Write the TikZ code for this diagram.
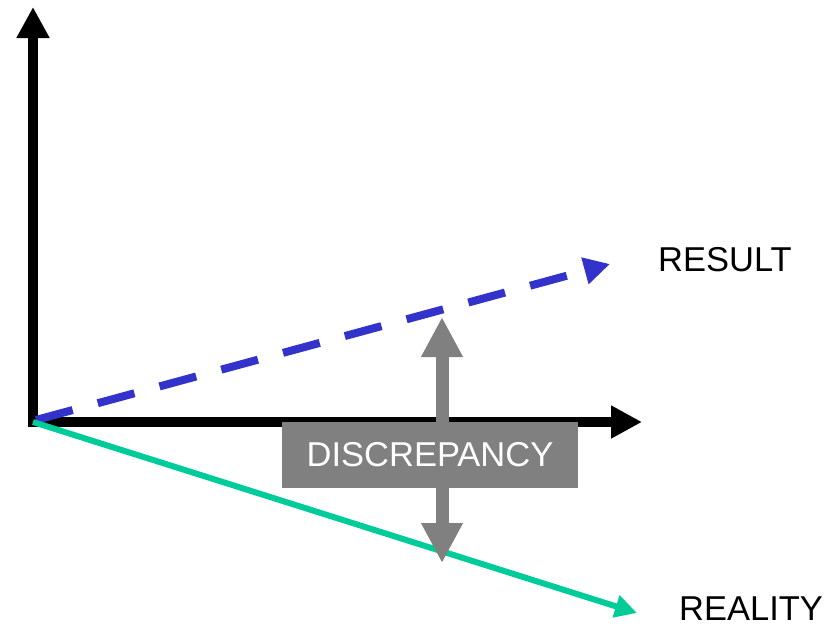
\documentclass[tikz,border=0pt]{standalone}
\usepackage{fontspec}
\setmainfont{Liberation Sans}
\usetikzlibrary{arrows.meta}
\definecolor{resblue}{HTML}{3333CC}
\definecolor{realgreen}{HTML}{00CC99}
\definecolor{discgray}{HTML}{808080}
\begin{document}
\begin{tikzpicture}[x=1pt,y=-1pt,
  axisline/.style={line width=10pt,-{Triangle[length=31pt,width=31pt]}},
  resultline/.style={resblue,line width=8pt,dash pattern=on 38pt off 26pt,-{Triangle[length=26pt,width=26pt]}},
  realityline/.style={realgreen,line width=6pt,-{Triangle[length=22pt,width=22pt]}},
  discarrow/.style={discgray,line width=13pt,-{Triangle[length=40pt,width=39pt]}},
  lbl/.style={font=\fontsize{34.5}{40}\selectfont,inner sep=0pt,anchor=west},
  discbox/.style={fill=discgray,text=white,minimum width=296pt,minimum height=66pt,inner sep=0pt,font=\fontsize{34.5}{40}\selectfont}]
\useasboundingbox (0,0) rectangle (834,627);
\coordinate (O) at (33,422);
\coordinate (ybot) at (33,427);
\coordinate (xleft) at (28,422);
\coordinate (ytip) at (33,7);
\coordinate (xtip) at (642,422);
\coordinate (bstart) at (36,420);
\coordinate (btip) at (610,264);
\coordinate (gtip) at (637,613);
\coordinate (uptip) at (442,317);
\coordinate (downtip) at (442,563);
% axes
\draw[axisline] (ybot) -- (ytip);
\draw[axisline] (xleft) -- (xtip);
% result and reality
\draw[resultline] (bstart) -- (btip);
\draw[realityline] (O) -- (gtip);
% discrepancy
\node[discbox] (disc) at (430,455) {DISCREPANCY};
\draw[discarrow] (disc.north -| uptip) -- (uptip);
\draw[discarrow] (disc.south -| downtip) -- (downtip);
% labels
\node[lbl] (result) at (658,260) {RESULT};
\node[lbl] (reality) at (679,609) {REALITY};
\end{tikzpicture}
\end{document}
